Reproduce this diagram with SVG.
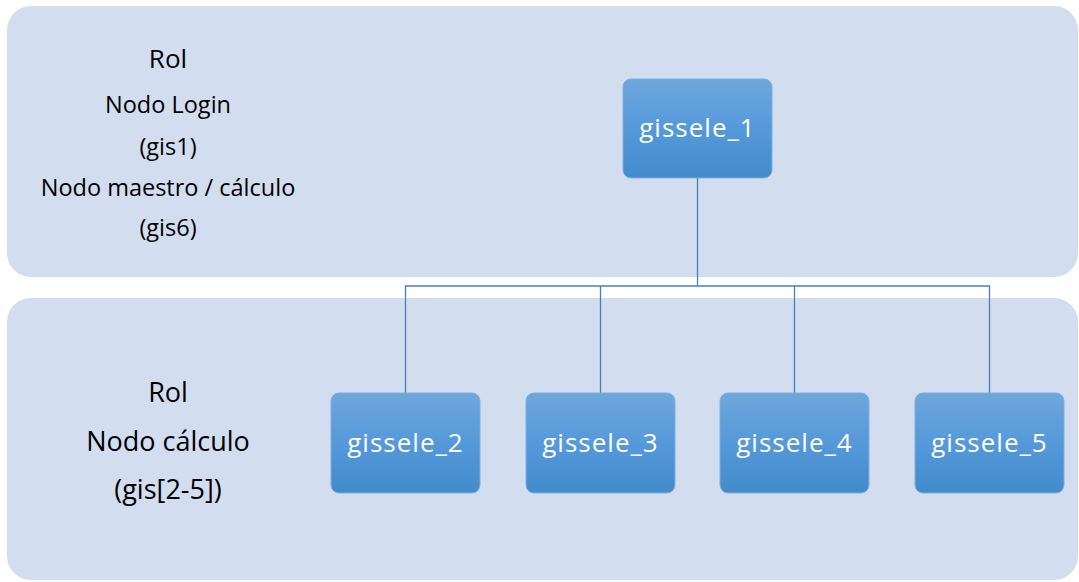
<svg xmlns="http://www.w3.org/2000/svg" width="1079" height="582" viewBox="0 0 1079 582">
  <defs>
    <linearGradient id="nodeFill" x1="0" y1="0" x2="0" y2="1">
      <stop offset="0" stop-color="#6FA7DC"/>
      <stop offset="0.5" stop-color="#5599DA"/>
      <stop offset="1" stop-color="#438BCA"/>
    </linearGradient>
  </defs>
  <style>
    .band { fill: #D2DEEF; }
    .node rect { fill: url(#nodeFill); stroke: #7FAEDD; stroke-width: 1; }
    .node text { fill: #FFFFFF; font-family: "Open Sans", "Liberation Sans", sans-serif; font-size: 26px; letter-spacing: 1px; text-anchor: middle; }
    .role { fill: #000000; font-family: "Open Sans", "Liberation Sans", sans-serif; text-anchor: middle; }
    .top { font-size: 23.5px; }
    .bottom { font-size: 27px; }
    .wire { fill: none; stroke: #4A7EBB; stroke-width: 1.3; }
  </style>

  <!-- role bands -->
  <rect class="band" x="7" y="6" width="1071" height="271" rx="24"/>
  <rect class="band" x="7" y="298" width="1071" height="282" rx="24"/>

  <!-- role captions -->
  <g id="role-top">
    <text class="role" x="168" y="68" font-size="26">Rol</text>
    <text class="role top" x="168" y="113">Nodo Login</text>
    <text class="role top" x="168" y="155">(gis1)</text>
    <text class="role top" x="168" y="196">Nodo maestro / cálculo</text>
    <text class="role top" x="168" y="236">(gis6)</text>
  </g>
  <g id="role-bottom">
    <text class="role bottom" x="168" y="402">Rol</text>
    <text class="role bottom" x="168" y="451">Nodo cálculo</text>
    <text class="role bottom" x="168" y="499">(gis[2-5])</text>
  </g>

  <!-- connectors -->
  <g id="connectors">
    <path class="wire" d="M697.5 178 V286"/>
    <path class="wire" d="M405.5 393 V286 H989.5 V393"/>
    <path class="wire" d="M600.5 286 V393"/>
    <path class="wire" d="M794.5 286 V393"/>
  </g>

  <!-- nodes -->
  <g id="gissele_1" class="node">
    <rect x="623" y="79" width="149" height="99" rx="8"/>
    <text x="697.5" y="137">gissele_1</text>
  </g>
  <g id="gissele_2" class="node">
    <rect x="331" y="393" width="149" height="100" rx="8"/>
    <text x="405.5" y="452">gissele_2</text>
  </g>
  <g id="gissele_3" class="node">
    <rect x="526" y="393" width="149" height="100" rx="8"/>
    <text x="600.5" y="452">gissele_3</text>
  </g>
  <g id="gissele_4" class="node">
    <rect x="720" y="393" width="149" height="100" rx="8"/>
    <text x="794.5" y="452">gissele_4</text>
  </g>
  <g id="gissele_5" class="node">
    <rect x="915" y="393" width="149" height="100" rx="8"/>
    <text x="989.5" y="452">gissele_5</text>
  </g>
</svg>
